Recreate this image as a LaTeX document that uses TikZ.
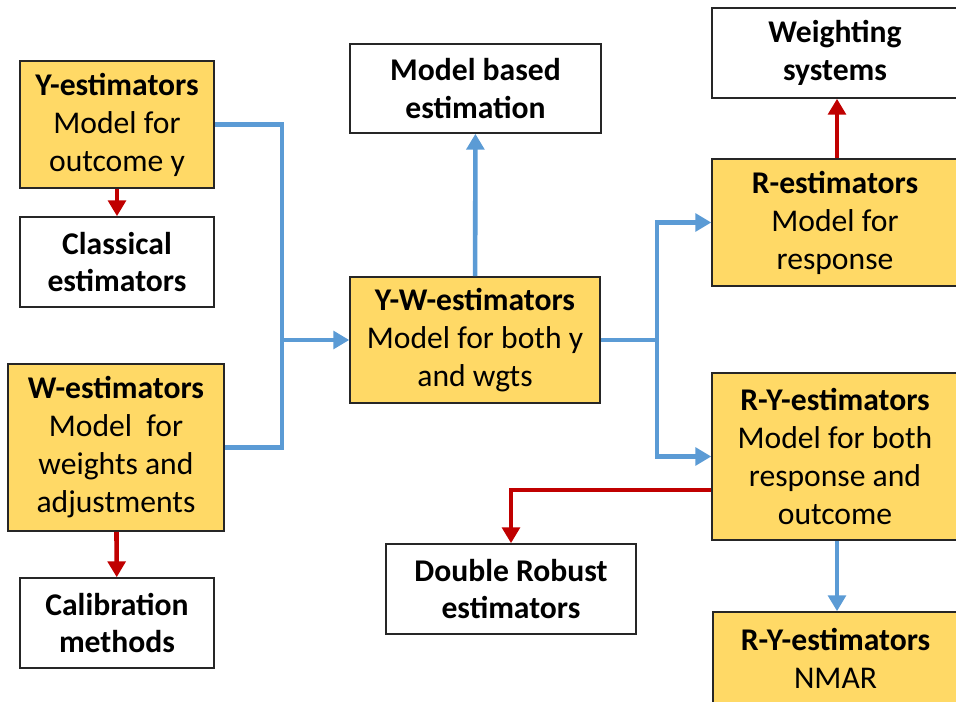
\documentclass[tikz,border=0pt]{standalone}
\definecolor{BoxGold}{RGB}{255,217,102}
\definecolor{LinkBlue}{RGB}{91,155,213}
\definecolor{LinkRed}{RGB}{192,0,0}
\definecolor{EdgeGray}{RGB}{38,38,38}
\usepackage{fontspec}
\setmainfont{Carlito}
\usepackage{tikz}
\usetikzlibrary{arrows.meta, positioning, calc}

\begin{document}
\begin{tikzpicture}[x=0.02cm, y=-0.02cm,
    box/.style={draw=EdgeGray, line width=0.9pt, align=center, inner sep=0pt,
                font=\fontsize{18}{21.6}\selectfont},
    goldbox/.style={box, fill=BoxGold},
    whitebox/.style={box, fill=white},
    bluelink/.style={LinkBlue, line width=2.6pt,
                     -{Triangle[length=9pt, width=10pt]}},
    bluejoin/.style={LinkBlue, line width=2.6pt},
    redlink/.style={LinkRed, line width=2.6pt,
                    -{Triangle[length=9pt, width=10pt]}}]
      \useasboundingbox (0,0) rectangle (956,702);
      \clip (0,0) rectangle (956,702);

      % left column
      \node[goldbox, minimum width=3.88cm, minimum height=2.54cm] (yest) at (117,124.5)
            {\textbf{Y-estimators}\\Model for\\outcome y};
      \node[whitebox, minimum width=3.88cm, minimum height=1.8cm] (classic) at (117,262)
            {\textbf{Classical}\\\textbf{estimators}};
      \node[goldbox, minimum width=4.32cm, minimum height=3.34cm] (west) at (116,447.5)
            {\textbf{W-estimators}\\Model\ \ for\\weights and\\adjustments};
      \node[whitebox, minimum width=3.88cm, minimum height=1.8cm] (calib) at (117,623)
            {\textbf{Calibration}\\\textbf{methods}};

      % middle column
      \node[whitebox, minimum width=5.02cm, minimum height=1.78cm] (modelb) at (475.5,88.5)
            {\textbf{Model based}\\\textbf{estimation}};
      \node[goldbox, minimum width=5cm, minimum height=2.52cm] (ywest) at (475,340)
            {\textbf{Y-W-estimators}\\Model for both y\\and wgts};
      \node[whitebox, minimum width=5cm, minimum height=1.8cm] (drobust) at (511,589)
            {\textbf{Double Robust}\\\textbf{estimators}};

      % right column
      \node[whitebox, minimum width=4.92cm, minimum height=1.8cm] (weight) at (835,53)
            {\textbf{Weighting}\\\textbf{systems}};
      \node[goldbox, minimum width=4.92cm, minimum height=2.54cm] (rest) at (835,222.5)
            {\textbf{R-estimators}\\Model for\\response};
      \node[goldbox, minimum width=4.92cm, minimum height=3.34cm] (ryest) at (835,456.5)
            {\textbf{R-Y-estimators}\\Model for both\\response and\\outcome};
      \node[goldbox, minimum width=4.9cm, minimum height=1.86cm] (nmar) at (835.5,658.5)
            {\textbf{R-Y-estimators}\\NMAR};

      % connectors
      \coordinate (join) at (282,340);
      \coordinate (split) at (657,340);

      \draw[redlink] (yest) -- (classic);
      \draw[redlink] (west) -- (calib);
      \draw[bluejoin, line join=miter] (yest.east) -| (join) |- (west.east);
      \draw[bluelink] (join) -- (ywest.west);
      \draw[bluelink] (ywest) -- (modelb);
      \draw[bluejoin] (ywest.east) -- (split);
      \draw[bluelink] (split) |- (rest.west);
      \draw[bluelink] (split) |- (ryest.west);
      \draw[redlink] (rest.north -| 837,0) -- (weight.south -| 837,0);
      \draw[redlink] ([yshift=-0.67cm]ryest.west) -| (drobust.north);
      \draw[bluelink] (ryest.south -| 837,0) -- (nmar.north -| 837,0);
\end{tikzpicture}
\end{document}
